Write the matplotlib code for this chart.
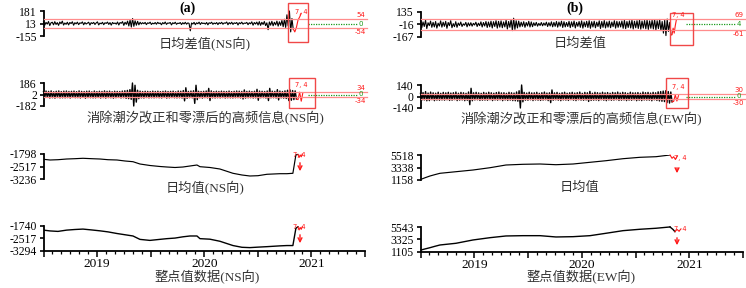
import numpy as np
import matplotlib
matplotlib.use("Agg")
import matplotlib.pyplot as plt
from matplotlib.patches import Rectangle, FancyArrowPatch

W, H = 746, 288
SERIF = ['Liberation Serif', 'Noto Sans CJK SC']
plt.rcParams['font.family'] = SERIF

# ---------------- data ----------------
# Row 1: daily-mean differences
ns_diff = [35, -10, 28, 5, 40, -15, 22, 30, -5, 38,
           0, 25, -12, 33, 10, 45, -8, 20, 2, 30,
           -6, 27, 12, 36, -10, 24, 8, 31, -2, 22,
           15, 34, -4, 26, 6, 18, 30, -8, 24, 12,
           28, 0, 21, 35, -6, 19, 9, 29, -3, 23,
           14, 32, 1, 25, -9, 27, 11, 20, 4, 33,
           -7, 26, 16, 38, -12, 30, 2, 45, -20, 60,
           -35, 80, -25, 50, -10, 42, -5, 30, 6, 24,
           10, 28, -2, 22, 14, 31, 0, 19, 8, 26,
           3, 29, 12, 21, -4, 25, 9, 33, 1, 20,
           16, 27, -6, 23, 11, 30, 2, 18, 13, 26,
           -1, 24, 7, 29, 4, 21, 15, -85, 20, 6,
           28, -3, 22, 10, 31, 0, 25, 12, 19, 5,
           27, -5, 23, 14, 30, 2, 20, 9, 26, -2,
           24, 11, 29, 3, 21, 16, 33, -4, 25, 8,
           30, 1, 22, 13, 27, -7, 24, 10, 31, 4,
           19, 15, 28, -3, 23, 9, 35, -10, 26, 6,
           32, -8, 38, -12, 29, 0, 40, -15, 22, -70,
           34, -10, 42, -18, 30, -6, 45, -22, 36, -12,
           55, -30, 70, -40, 130, -20, 181, -100, 80, -60]
ns_diff_tail_x = [2020.83, 2020.845, 2020.86, 2020.875, 2020.89, 2020.905]
ns_diff_tail = [-60, -100, -40, 60, 100, 150]

ew_diff = [30, -55, 15, -40, 35, -65, 5, -30, 25, -50,
           10, -45, 20, -60, 0, -35, 28, -48, 12, -38,
           22, -62, 8, -30, 30, -55, -5, -42, 18, -50,
           2, -28, 14, -40, -8, -25, 10, -44, 4, -32,
           6, -36, -2, -22, 12, -40, 0, -30, 16, -46,
           8, -34, 20, -52, 14, -44, 24, -58, 18, -40,
           30, -60, 22, -48, 28, -55, 15, -45, 35, -70,
           20, -50, 45, -90, 60, -75, 30, -58, 25, -45,
           12, -38, 18, -50, 8, -34, 22, -46, 15, -42,
           5, -30, 10, -36, -2, -28, 8, -32, 2, -26,
           12, -40, 6, -34, 16, -44, 10, -38, 20, -48,
           14, -36, 24, -52, 18, -45, 8, -40, 22, -54,
           16, -42, 26, -58, 10, -38, 20, -50, 28, -60,
           15, -44, 22, -52, 30, -62, 18, -46, 24, -56,
           12, -40, 28, -64, 20, -50, 32, -58, 16, -48,
           25, -55, 14, -42, 30, -60, 22, -50, 18, -46,
           26, -62, 34, -66, 20, -52, 28, -58, 36, -70,
           24, -56, 30, -64, 38, -72, 26, -60, 32, -68,
           40, -75, 28, -62, 36, -70, 44, -80, 30, -66,
           45, -90, 20, -120, 35, -150, 50, -100, 10, -140]
ew_diff_tail_x = [2020.83, 2020.84, 2020.85, 2020.86, 2020.87, 2020.88]
ew_diff_tail = [-140, -140, -60, -120, -30, 40]

# Row 2: high-frequency information
ns_hf = [50, -48, 58, -45, 52, -55, 60, -50, 46, -57,
         54, -47, 59, -53, 49, -51, 56, -52, 58, -48,
         51, -55, 53, -46, 57, -50, 48, -49, 60, -54,
         52, -46, 50, -58, 55, -48, 57, -50, 45, -53,
         58, -52, 49, -47, 54, -55, 51, -49, 60, -56,
         53, -48, 56, -51, 47, -57, 55, -50, 52, -46,
         50, -54, 57, -49, 62, -60, 68, -64, 80, -75,
         186, -182, 150, -120, 70, -65, 56, -52, 50, -55,
         54, -47, 52, -53, 49, -50, 56, -52, 51, -48,
         55, -51, 48, -54, 53, -46, 57, -56, 50, -52,
         52, -48, 56, -51, 46, -53, 58, -50, 54, -55,
         65, -100, 110, -60, 52, -50, 57, -52, 62, -140,
         150, -80, 54, -51, 50, -56, 53, -49, 58, -52,
         100, -95, 60, -52, 49, -54, 55, -50, 51, -53,
         56, -48, 52, -55, 50, -51, 57, -52, 48, -54,
         53, -50, 58, -49, 55, -53, 51, -70, 75, -56,
         52, -51, 56, -50, 49, -55, 54, -52, 85, -90,
         57, -51, 53, -49, 50, -55, 58, -95, 100, -52,
         55, -50, 52, -54, 80, -85, 57, -52, 50, -56,
         60, -62, 70, -95, 75, -90, 65, -80, 60, -70]
ns_hf_tail_x = [2020.86, 2020.875, 2020.89, 2020.905, 2020.92]
ns_hf_tail = [-70, -80, 40, -105, 30]

ew_hf = [38, -45, 48, -42, 60, -52, 42, -50, 54, -39,
         45, -51, 40, -44, 52, -46, 39, -42, 50, -45,
         44, -40, 51, -48, 42, -45, 46, -38, 54, -50,
         40, -44, 50, -42, 45, -51, 39, -46, 55, -100,
         100, -52, 45, -42, 51, -40, 44, -48, 39, -45,
         50, -44, 42, -46, 52, -39, 45, -50, 40, -42,
         48, -45, 54, -40, 44, -51, 46, -42, 39, -48,
         51, -44, 45, -50, 42, -52, 55, -57, 70, -140,
         140, -65, 50, -45, 42, -46, 52, -40, 44, -50,
         45, -42, 51, -45, 39, -48, 46, -44, 54, -40,
         42, -50, 45, -75, 80, -46, 44, -40, 50, -45,
         39, -51, 46, -42, 52, -44, 40, -48, 45, -39,
         51, -45, 42, -50, 46, -40, 54, -44, 39, -46,
         50, -42, 45, -60, 62, -48, 40, -45, 51, -44,
         46, -50, 42, -40, 52, -45, 44, -51, 48, -42,
         40, -46, 50, -44, 45, -39, 54, -48, 42, -45,
         51, -42, 46, -50, 39, -44, 52, -46, 45, -40,
         44, -51, 48, -45, 40, -50, 54, -42, 46, -44,
         50, -45, 42, -52, 51, -40, 45, -48, 57, -54,
         60, -58, 66, -62, 70, -75, 60, -80, 55, -65]
ew_hf_tail_x = [2020.84, 2020.855, 2020.87, 2020.885, 2020.90]
ew_hf_tail = [-65, -60, 20, -55, 10]

# Rows 3 & 4: daily mean and hourly values
ns_x = [2018.5, 2018.561, 2018.635, 2018.716, 2018.793, 2018.868, 2018.952, 2019.027,
        2019.102, 2019.186, 2019.260, 2019.335, 2019.400, 2019.493, 2019.587, 2019.652,
        2019.727, 2019.801, 2019.867, 2019.932, 2019.960, 2020.053, 2020.146, 2020.268,
        2020.352, 2020.426, 2020.501, 2020.585, 2020.706, 2020.771, 2020.827, 2020.855, 2020.874]
ns_daily = [-2103, -2143, -2126, -2086, -2068, -2045, -2068, -2086, -2126, -2143, -2200,
            -2241, -2373, -2459, -2517, -2546, -2574, -2546, -2488, -2431, -2528, -2574,
            -2661, -2908, -3006, -3063, -3046, -2965, -2931, -2931, -2908, -1856, -1815]
ns_hourly = [-1999, -2050, -2080, -1999, -1960, -1934, -1990, -2044, -2110, -2213, -2290,
             -2368, -2582, -2646, -2580, -2536, -2500, -2420, -2368, -2368, -2536, -2570,
             -2700, -2970, -3080, -3100, -3070, -3040, -2990, -2970, -2970, -1889, -1785]
ns_tail_x = [2020.874, 2020.885, 2020.895, 2020.905, 2020.915]
ns_daily_tail = [-1815, -2000, -1850, -1960, -1800]
ns_hourly_tail = [-1785, -1990, -1830, -1950, -1790]

ew_x = [2018.505, 2018.542, 2018.588, 2018.635, 2018.681, 2018.830, 2018.988, 2019.147,
        2019.295, 2019.453, 2019.612, 2019.760, 2019.919, 2020.077, 2020.226, 2020.384,
        2020.542, 2020.691, 2020.821]
ew_daily = [1280, 1550, 1856, 2100, 2326, 2605, 2900, 3303, 3774, 3896, 3948, 3826,
            3948, 4245, 4524, 4873, 5117, 5222, 5518]
ew_hourly = [1411, 1600, 1825, 2080, 2311, 2617, 3211, 3625, 3931, 3985, 3985, 3751,
             3805, 3985, 4417, 4885, 5137, 5317, 5551]
ew_daily_tail_x = [2020.821, 2020.84, 2020.855, 2020.87, 2020.89]
ew_daily_tail = [5518, 4943, 5222, 4768, 5344]
ew_hourly_dip_x = [2020.821, 2020.849, 2020.867]
ew_hourly_dip = [5551, 5100, 4705]
ew_hourly_tail_x = [2020.867, 2020.886, 2020.905, 2020.923]
ew_hourly_tail = [4705, 5100, 4800, 5200]

# tick values per panel (bottom, middle, top)
ticks = {
    ('a', 1): [-155, 13, 181], ('a', 2): [-182, 2, 186],
    ('a', 3): [-3236, -2517, -1798], ('a', 4): [-3294, -2517, -1740],
    ('b', 1): [-167, -16, 135], ('b', 2): [-140, 0, 140],
    ('b', 3): [1158, 3338, 5518], ('b', 4): [1105, 3325, 5543],
}

# ---------------- layout helpers ----------------
fig = plt.figure(figsize=(W / 100, H / 100), dpi=100)

def fx(x):
    return x / W

def fy(y):
    return 1 - y / H

col_x = {'a': (43.5, 365.0), 'b': (420.5, 743.0)}
row_y = {('a', 1): (11, 36), ('a', 2): (83, 106), ('a', 3): (154, 179), ('a', 4): (226, 250.7),
         ('b', 1): (12, 37), ('b', 2): (85, 108), ('b', 3): (155, 180), ('b', 4): (227, 251.7)}

axes = {}
for key, (yt, yb) in row_y.items():
    x0, x1 = col_x[key[0]]
    ax = fig.add_axes([fx(x0), fy(yb), (x1 - x0) / W, (yb - yt) / H])
    t = ticks[key]
    ax.set_xlim(2018.5, 2021.5)
    ax.set_ylim(t[0], t[2])
    ax.patch.set_alpha(0)
    for s in ['top', 'right']:
        ax.spines[s].set_visible(False)
    ax.spines['left'].set_bounds(t[0], t[2])
    ax.spines['left'].set_linewidth(1.3)
    ax.set_yticks(t)
    ax.set_yticklabels([str(v) for v in t])
    ax.tick_params(axis='y', length=2.8, width=1.2, pad=2.0, labelsize=8.4,
                   direction='out')
    if key[1] == 4:
        ax.spines['bottom'].set_linewidth(1.3)
        ax.set_xticks([2018.5, 2019, 2019.5, 2020, 2020.5, 2021, 2021.5])
        ax.set_xticklabels(['', '2019', '', '2020', '', '2021', ''])
        ax.set_xticks(np.arange(2018.5, 2021.51, 1 / 12), minor=True)
        ax.tick_params(axis='x', which='major', length=4.0, width=1.1, pad=1.5,
                       labelsize=9.6)
        ax.tick_params(axis='x', which='minor', length=2.2, width=0.9)
    else:
        ax.spines['bottom'].set_visible(False)
        ax.set_xticks([])
    axes[key] = ax

RED = '#ff1a1a'
PALE = '#ff8c8c'
GREEN = '#1a9a1a'

def noisy(ax, vals, x_end, tail_x, tail_y, lw):
    xs = np.linspace(2018.5, x_end, len(vals))
    ax.plot(xs, vals, color='black', lw=lw, clip_on=False)
    ax.plot(tail_x, tail_y, color=RED, lw=0.8, clip_on=False)

noisy(axes[('a', 1)], ns_diff, 2020.83, ns_diff_tail_x, ns_diff_tail, 0.8)
noisy(axes[('b', 1)], ew_diff, 2020.83, ew_diff_tail_x, ew_diff_tail, 0.8)
noisy(axes[('a', 2)], ns_hf, 2020.86, ns_hf_tail_x, ns_hf_tail, 1.0)
noisy(axes[('b', 2)], ew_hf, 2020.84, ew_hf_tail_x, ew_hf_tail, 1.0)

axes[('a', 3)].plot(ns_x, ns_daily, color='black', lw=0.85)
axes[('a', 3)].plot(ns_tail_x, ns_daily_tail, color=RED, lw=0.8, clip_on=False)
axes[('a', 4)].plot(ns_x, ns_hourly, color='black', lw=1.0)
axes[('a', 4)].plot(ns_tail_x, ns_hourly_tail, color=RED, lw=0.8, clip_on=False)
axes[('b', 3)].plot(ew_x, ew_daily, color='black', lw=0.85)
axes[('b', 3)].plot(ew_daily_tail_x, ew_daily_tail, color=RED, lw=0.8, clip_on=False)
axes[('b', 4)].plot(ew_x, ew_hourly, color='black', lw=1.0, clip_on=False)
axes[('b', 4)].plot(ew_hourly_dip_x, ew_hourly_dip, color='black', lw=1.0, clip_on=False)
axes[('b', 4)].plot(ew_hourly_tail_x, ew_hourly_tail, color=RED, lw=0.8, clip_on=False)

# threshold bands
bands = {('a', 1): (67, -41, 13, '54', '-54', '0'),
         ('b', 1): (53, -85, -16, '69', '-61', '4'),
         ('a', 2): (36, -32, 2, '34', '-34', '0'),
         ('b', 2): (30, -30, 0, '30', '-30', '0')}
for key, (hi, lo, mid, lhi, llo, lmid) in bands.items():
    ax = axes[key]
    ax.plot([2018.5, 2021.52], [hi, hi], color=PALE, lw=0.9, clip_on=False, zorder=3)
    ax.plot([2018.5, 2021.52], [lo, lo], color=PALE, lw=0.9, clip_on=False, zorder=3)
    ax.plot([2020.97, 2021.43], [mid, mid], color=GREEN, lw=0.9, ls=(0, (1, 1)),
            clip_on=False)
    ax.text(2021.46, mid, lmid, color=GREEN, fontsize=5, ha='center', va='center',
            family='DejaVu Sans')
    span = ticks[key][2] - ticks[key][0]
    ax.text(2021.46, hi + span * 0.05, lhi, color=RED, fontsize=5, ha='center',
            va='bottom', family='DejaVu Sans')
    ax.text(2021.46, lo - span * 0.05, llo, color=RED, fontsize=5, ha='center',
            va='top', family='DejaVu Sans')

# red boxes (figure pixels: x0, y0, x1, y1)
boxes = [(288, 3, 308, 42), (289, 78, 315, 108), (670, 13, 693, 45), (666, 78, 688, 108)]
for (x0, y0, x1, y1) in boxes:
    fig.add_artist(Rectangle((fx(x0), fy(y1)), (x1 - x0) / W, (y1 - y0) / H,
                             transform=fig.transFigure, fill=False, ec='#f04848', lw=1.0))

marks = [(301, 12), (301, 85), (678, 15), (678, 87), (299, 155), (299, 227), (680, 158), (680, 229)]
for (x, y) in marks:
    fig.text(fx(x), fy(y), '7, 4', color=RED, fontsize=4.8, ha='center', va='center',
             family='DejaVu Sans')

arrows = [(300, 160, 174), (300, 232, 246), (677, 165, 176), (677, 235, 248)]
for (x, ya, yb) in arrows:
    fig.add_artist(FancyArrowPatch((fx(x), fy(ya)), (fx(x), fy(yb)),
                                   transform=fig.transFigure, arrowstyle='->',
                                   mutation_scale=7, color=RED, lw=1.0))

# labels
fig.text(fx(187), fy(8), '(a)', fontsize=10, fontweight='bold', ha='center', va='center')
fig.text(fx(575), fy(8), '(b)', fontsize=10, fontweight='bold', ha='center', va='center')

LBL = '#333333'
labels = [(205, 44, '日均差值(NS向)'), (205, 118, '消除潮汐改正和零漂后的高频信息(NS向)'),
          (205, 188, '日均值(NS向)'), (207, 277, '整点值数据(NS向)'),
          (580, 44, '日均差值'), (581, 119, '消除潮汐改正和零漂后的高频信息(EW向)'),
          (580, 188, '日均值'), (581, 277, '整点值数据(EW向)')]
for (x, y, s) in labels:
    fig.text(fx(x), fy(y), s, fontsize=9.5, color=LBL, ha='center', va='center',
             family=SERIF)

fig.savefig('out.png', dpi=100)
